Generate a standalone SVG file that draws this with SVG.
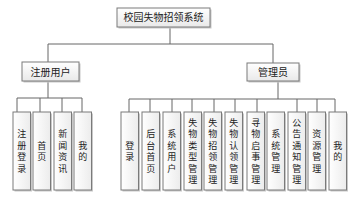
<svg xmlns="http://www.w3.org/2000/svg" width="356" height="200" viewBox="0 0 356 200">
<defs>
<linearGradient id="g" x1="0" y1="0" x2="0" y2="1">
<stop offset="0" stop-color="#ffffff"/>
<stop offset="1" stop-color="#e9e9e9"/>
</linearGradient>
<linearGradient id="gv" x1="0" y1="0" x2="1" y2="0">
<stop offset="0" stop-color="#ffffff"/>
<stop offset="1" stop-color="#ececec"/>
</linearGradient>
</defs>
<style>
.sh{fill:#c8c8c8;stroke:none}
.bx{fill:url(#g);stroke:#7a7a7a;stroke-width:1}
.vb{fill:url(#gv);stroke:#7a7a7a;stroke-width:1}
.t{font-family:"Noto Sans CJK SC","Noto Sans CJK JP",sans-serif;font-size:10px;fill:#222;text-anchor:middle}
.v{font-family:"Noto Sans CJK SC","Noto Sans CJK JP",sans-serif;font-size:9px;fill:#222;text-anchor:middle}
.c{stroke:#666;stroke-width:1;fill:none}
</style>
<rect width="356" height="200" fill="#ffffff"/>
<g id="connectors">
<path class="c" d="M170 27V44M48 44H273M48 44V62M273 44V63"/>
<path class="c" d="M48 82V98M17 98H82M17 98V112M40 98V112M62 98V112M82 98V112"/>
<path class="c" d="M278 82V99M129 99H335M129 99V112M150 99V112M172 99V112M192 99V112M214 99V112M235 99V112M257 99V112M297 99V112M317 99V112M335 99V112"/>
</g>
<g id="root"><rect class="sh" x="118.5" y="9.5" width="93" height="19"/><rect class="bx" x="117" y="8" width="93" height="19"/><text class="t" x="163.5" y="21">校园失物招领系统</text></g>
<g id="user"><rect class="sh" x="23.5" y="63.5" width="57" height="19"/><rect class="bx" x="22" y="62" width="57" height="19"/><text class="t" x="50.5" y="75.5">注册用户</text></g>
<g id="admin"><rect class="sh" x="248.5" y="64.5" width="52" height="18"/><rect class="bx" x="247" y="63" width="52" height="18"/><text class="t" x="273" y="76">管理员</text></g>

<g id="u1"><rect class="sh" x="14.5" y="113.5" width="17.5" height="78"/><rect class="vb" x="13" y="112" width="17.5" height="78"/><text class="v" y="137.2"><tspan x="21.75">注</tspan><tspan x="21.75" dy="11.5">册</tspan><tspan x="21.75" dy="11.5">登</tspan><tspan x="21.75" dy="11.5">录</tspan></text></g>
<g id="u2"><rect class="sh" x="34.5" y="113.5" width="17.5" height="78"/><rect class="vb" x="33" y="112" width="17.5" height="78"/><text class="v" y="148.7"><tspan x="41.75">首</tspan><tspan x="41.75" dy="11.5">页</tspan></text></g>
<g id="u3"><rect class="sh" x="55.5" y="113.5" width="17.5" height="78"/><rect class="vb" x="54" y="112" width="17.5" height="78"/><text class="v" y="137.2"><tspan x="62.75">新</tspan><tspan x="62.75" dy="11.5">闻</tspan><tspan x="62.75" dy="11.5">资</tspan><tspan x="62.75" dy="11.5">讯</tspan></text></g>
<g id="u4"><rect class="sh" x="75.5" y="113.5" width="17.5" height="78"/><rect class="vb" x="74" y="112" width="17.5" height="78"/><text class="v" y="148.7"><tspan x="82.75">我</tspan><tspan x="82.75" dy="11.5">的</tspan></text></g>

<g id="a1"><rect class="sh" x="122.5" y="113.5" width="17.5" height="78"/><rect class="vb" x="121" y="112" width="17.5" height="78"/><text class="v" y="148.7"><tspan x="129.75">登</tspan><tspan x="129.75" dy="11.5">录</tspan></text></g>
<g id="a2"><rect class="sh" x="143.5" y="113.5" width="17.5" height="78"/><rect class="vb" x="142" y="112" width="17.5" height="78"/><text class="v" y="137.2"><tspan x="150.75">后</tspan><tspan x="150.75" dy="11.5">台</tspan><tspan x="150.75" dy="11.5">首</tspan><tspan x="150.75" dy="11.5">页</tspan></text></g>
<g id="a3"><rect class="sh" x="164.5" y="113.5" width="17.5" height="78"/><rect class="vb" x="163" y="112" width="17.5" height="78"/><text class="v" y="137.2"><tspan x="171.75">系</tspan><tspan x="171.75" dy="11.5">统</tspan><tspan x="171.75" dy="11.5">用</tspan><tspan x="171.75" dy="11.5">户</tspan></text></g>
<g id="a4"><rect class="sh" x="185.5" y="113.5" width="17.5" height="78"/><rect class="vb" x="184" y="112" width="17.5" height="78"/><text class="v" y="125.7"><tspan x="192.75">失</tspan><tspan x="192.75" dy="11.5">物</tspan><tspan x="192.75" dy="11.5">类</tspan><tspan x="192.75" dy="11.5">型</tspan><tspan x="192.75" dy="11.5">管</tspan><tspan x="192.75" dy="11.5">理</tspan></text></g>
<g id="a5"><rect class="sh" x="205.5" y="113.5" width="17.5" height="78"/><rect class="vb" x="204" y="112" width="17.5" height="78"/><text class="v" y="125.7"><tspan x="212.75">失</tspan><tspan x="212.75" dy="11.5">物</tspan><tspan x="212.75" dy="11.5">招</tspan><tspan x="212.75" dy="11.5">领</tspan><tspan x="212.75" dy="11.5">管</tspan><tspan x="212.75" dy="11.5">理</tspan></text></g>
<g id="a6"><rect class="sh" x="226.5" y="113.5" width="17.5" height="78"/><rect class="vb" x="225" y="112" width="17.5" height="78"/><text class="v" y="125.7"><tspan x="233.75">失</tspan><tspan x="233.75" dy="11.5">物</tspan><tspan x="233.75" dy="11.5">认</tspan><tspan x="233.75" dy="11.5">领</tspan><tspan x="233.75" dy="11.5">管</tspan><tspan x="233.75" dy="11.5">理</tspan></text></g>
<g id="a7"><rect class="sh" x="248.5" y="113.5" width="17.5" height="78"/><rect class="vb" x="247" y="112" width="17.5" height="78"/><text class="v" y="125.7"><tspan x="255.75">寻</tspan><tspan x="255.75" dy="11.5">物</tspan><tspan x="255.75" dy="11.5">启</tspan><tspan x="255.75" dy="11.5">事</tspan><tspan x="255.75" dy="11.5">管</tspan><tspan x="255.75" dy="11.5">理</tspan></text></g>
<g id="a8"><rect class="sh" x="268.5" y="113.5" width="17.5" height="78"/><rect class="vb" x="267" y="112" width="17.5" height="78"/><text class="v" y="137.2"><tspan x="275.75">系</tspan><tspan x="275.75" dy="11.5">统</tspan><tspan x="275.75" dy="11.5">管</tspan><tspan x="275.75" dy="11.5">理</tspan></text></g>
<g id="a9"><rect class="sh" x="289.5" y="113.5" width="17.5" height="78"/><rect class="vb" x="288" y="112" width="17.5" height="78"/><text class="v" y="125.7"><tspan x="296.75">公</tspan><tspan x="296.75" dy="11.5">告</tspan><tspan x="296.75" dy="11.5">通</tspan><tspan x="296.75" dy="11.5">知</tspan><tspan x="296.75" dy="11.5">管</tspan><tspan x="296.75" dy="11.5">理</tspan></text></g>
<g id="a10"><rect class="sh" x="309.5" y="113.5" width="17.5" height="78"/><rect class="vb" x="308" y="112" width="17.5" height="78"/><text class="v" y="137.2"><tspan x="316.75">资</tspan><tspan x="316.75" dy="11.5">源</tspan><tspan x="316.75" dy="11.5">管</tspan><tspan x="316.75" dy="11.5">理</tspan></text></g>
<g id="a11"><rect class="sh" x="330.5" y="113.5" width="17.5" height="78"/><rect class="vb" x="329" y="112" width="17.5" height="78"/><text class="v" y="148.7"><tspan x="337.75">我</tspan><tspan x="337.75" dy="11.5">的</tspan></text></g>
</svg>
